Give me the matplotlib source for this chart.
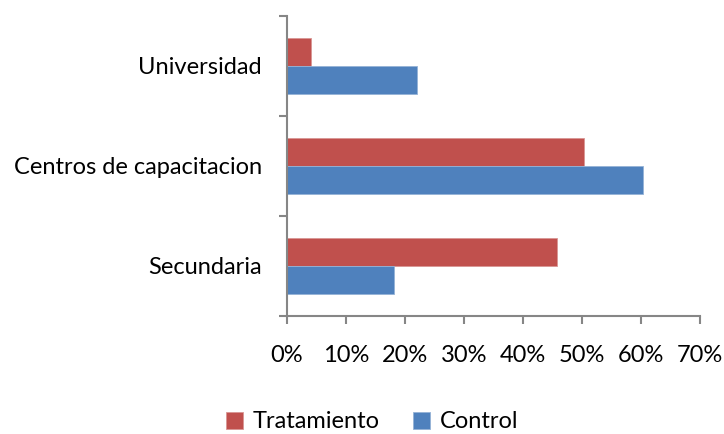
import matplotlib
matplotlib.use("Agg")
import matplotlib.pyplot as plt
import numpy as np
from matplotlib.ticker import PercentFormatter, FixedLocator

categories = ["Secundaria", "Centros de capacitacion", "Universidad"]
tratamiento = [45.8, 50.4, 4.0]
control = [18.2, 60.3, 22.1]
xticks = [0, 10, 20, 30, 40, 50, 60, 70]

plt.rcParams['font.family'] = ['Lato', 'DejaVu Sans']
fs = 17

fig = plt.figure(figsize=(7.24, 4.34), dpi=100)
ax = fig.add_axes([287/724, 1-316/434, (700-287)/724, (316-16)/434])

y = np.arange(len(categories))
h = 0.28
red = "#C0504D"
blue = "#4F81BD"
ax.barh(y + h/2, tratamiento, height=h, color=red, edgecolor="#D99694", linewidth=0.6, label="Tratamiento")
ax.barh(y - h/2, control, height=h, color=blue, edgecolor="#95B3D7", linewidth=0.6, label="Control")

ax.set_xlim(0, 70)
ax.set_ylim(-0.5, len(categories) - 0.5)
ax.set_xticks(xticks)
ax.xaxis.set_major_formatter(PercentFormatter(decimals=0))

ax.yaxis.set_major_locator(FixedLocator(np.arange(-0.5, len(categories), 1.0)))
ax.set_yticklabels([])
ax.set_yticks(y, minor=True)
ax.set_yticklabels(categories, minor=True)
ax.tick_params(axis='y', which='minor', length=0, pad=18, labelsize=fs)
ax.tick_params(axis='y', which='major', length=6, width=1.5, color="#868686", direction='out')
ax.tick_params(axis='x', length=6, width=1.5, color="#868686", direction='out', pad=15, labelsize=fs)

for s in ["top", "right"]:
    ax.spines[s].set_visible(False)
for s in ["left", "bottom"]:
    ax.spines[s].set_color("#868686")
    ax.spines[s].set_linewidth(1.5)

handles, labels = ax.get_legend_handles_labels()
fig.legend(handles, labels, loc="center", bbox_to_anchor=(372/724, 1-422/434), ncol=2,
           frameon=False, fontsize=fs, handlelength=0.75, handleheight=0.75,
           handletextpad=0.4, columnspacing=1.4)

fig.savefig("out.png", dpi=100)
